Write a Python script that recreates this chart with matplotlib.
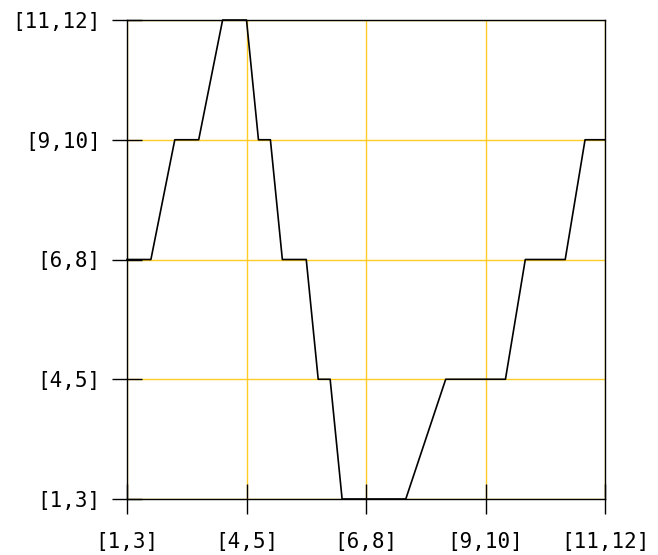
import matplotlib
matplotlib.use("Agg")
import matplotlib.pyplot as plt

x_labels = ["[1,3]", "[4,5]", "[6,8]", "[9,10]", "[11,12]"]
y_labels = ["[1,3]", "[4,5]", "[6,8]", "[9,10]", "[11,12]"]

# line vertices (x in category units, y as category index)
line_x = [0, 0.2, 0.4, 0.6, 0.8, 1.0, 1.1, 1.2, 1.3, 1.5, 1.6, 1.7, 1.8,
          2.333, 2.667, 3.167, 3.333, 3.667, 3.833, 4.0]
line_y = [2, 2, 3, 3, 4, 4, 3, 3, 2, 2, 1, 1, 0, 0, 1, 1, 2, 2, 3, 3]

plt.rcParams['font.family'] = ['DejaVu Sans Mono', 'DejaVu Sans']

fig = plt.figure(figsize=(6.58, 5.55), dpi=100)
ax = fig.add_axes([127/658, 56/555, (605-127)/658, (499-20)/555])

ax.set_xlim(0, 4)
ax.set_ylim(0, 4)
ax.set_xticks(range(len(x_labels)))
ax.set_xticklabels(x_labels)
ax.set_yticks(range(len(y_labels)))
ax.set_yticklabels(y_labels)

ax.grid(True, color="#FFC400", linewidth=1.0, alpha=0.85, zorder=1)
ax.set_axisbelow(True)
ax.plot(line_x, line_y, color="black", linewidth=1.2, zorder=3, clip_on=False)

for s in ax.spines.values():
    s.set_color("black")
    s.set_linewidth(1.0)

ax.tick_params(direction="inout", length=22, width=1.0, color="black",
               labelsize=15)
ax.tick_params(axis="y", pad=8)
ax.tick_params(axis="x", pad=13)

fig.savefig("out.png", dpi=100)
